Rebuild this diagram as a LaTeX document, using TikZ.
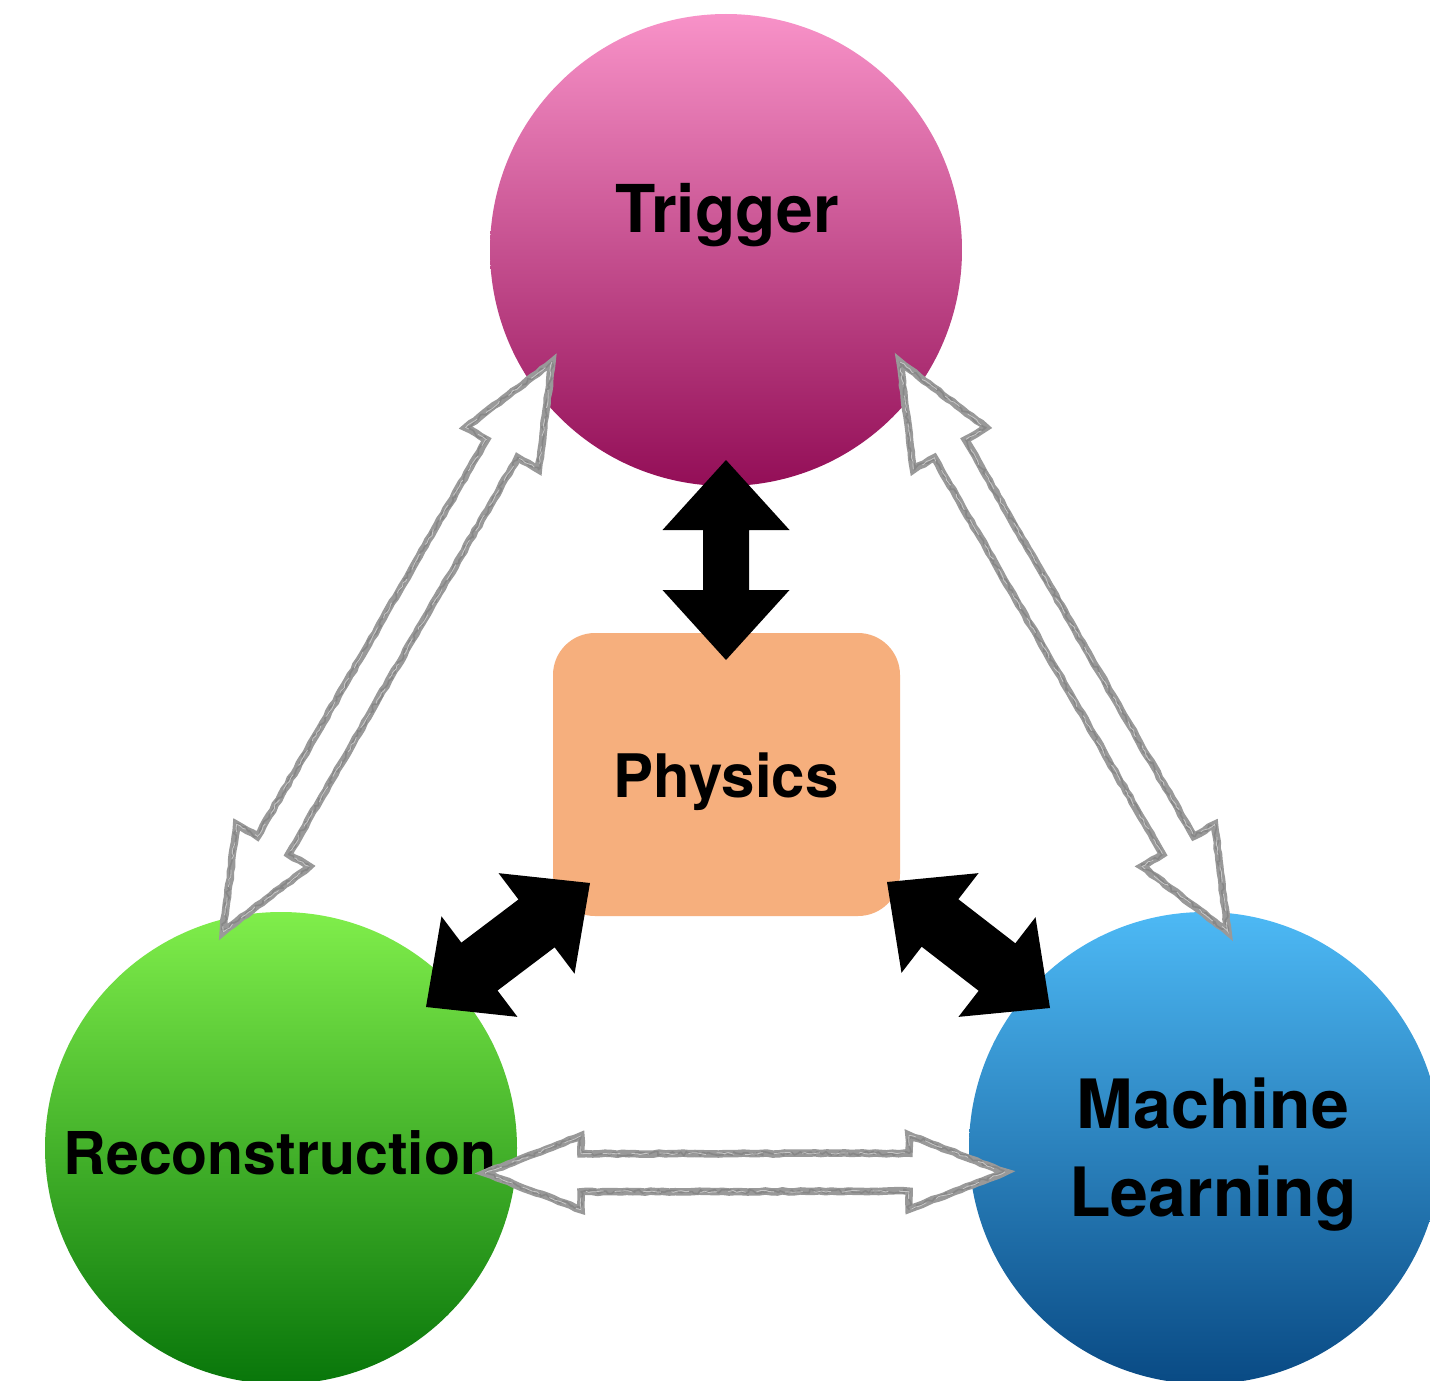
\documentclass[tikz,border=0pt]{standalone}
\usepackage{fontspec}
\setmainfont{TeX Gyre Heros}
\usetikzlibrary{calc,decorations.pathmorphing}

\definecolor{trigtop}{HTML}{F892C8}
\definecolor{trigbot}{HTML}{930E57}
\definecolor{recotop}{HTML}{80EE4B}
\definecolor{recobot}{HTML}{08760A}
\definecolor{mltop}{HTML}{4DB9F5}
\definecolor{mlbot}{HTML}{094A84}
\definecolor{physfill}{HTML}{F6AF7D}
\definecolor{sketchgray}{HTML}{999999}

% Double-headed block arrow between two points.
% #1 path options, #2 first end, #3 second end,
% #4 head length, #5 head half width, #6 shaft half width
\newcommand\twoheaded[6]{%
  \path[#1] (#2)
    -- ($(#2)!#4!(#3)!#5!90:(#3)$)
    -- ($(#2)!#4!(#3)!#6!90:(#3)$)
    -- ($(#3)!#4!(#2)!#6!-90:(#2)$)
    -- ($(#3)!#4!(#2)!#5!-90:(#2)$)
    -- (#3)
    -- ($(#3)!#4!(#2)!#5!90:(#2)$)
    -- ($(#3)!#4!(#2)!#6!90:(#2)$)
    -- ($(#2)!#4!(#3)!#6!-90:(#3)$)
    -- ($(#2)!#4!(#3)!#5!-90:(#3)$)
    -- cycle;}

\tikzset{
  topic/.style={circle, minimum size=472pt, inner sep=0pt},
  caption/.style={inner sep=0pt, anchor=base},
  solid link/.style={fill=black},
  sketch link/.style={
    fill=white,
    postaction={draw=sketchgray, line width=7.5pt, line join=miter,
      decorate, decoration={random steps, segment length=6pt, amplitude=0.6pt}},
    postaction={draw=sketchgray!88!black, line width=1.6pt, line join=round,
      decorate, decoration={random steps, segment length=3pt, amplitude=2.2pt}},
    postaction={draw=sketchgray!55!white, line width=0.8pt, dash pattern=on 18pt off 11pt,
      decorate, decoration={random steps, segment length=4pt, amplitude=1pt}}}
}

\begin{document}
\begin{tikzpicture}[x=1pt,y=-1pt]
\pgfmathsetseed{7}
\useasboundingbox (0,0) rectangle (1430,1381);
\clip (0,0) rectangle (1430,1381);
\fill[white] (0,0) rectangle (1430,1381);

% the three topics and the central box
\node[topic, top color=trigtop, bottom color=trigbot] (trig) at (726,250) {};
\node[topic, top color=recotop, bottom color=recobot] (reco) at (281,1148) {};
\node[topic, top color=mltop, bottom color=mlbot] (ml) at (1205,1148) {};
\node[fill=physfill, rounded corners=42pt, minimum width=347pt,
      minimum height=283pt, inner sep=0pt] (phys) at (726.5,774.5) {};

% captions
\node[caption, font=\fontsize{66}{70}\selectfont\bfseries] (trigtext) at (727,232) {Trigger};
\node[caption, font=\fontsize{60}{64}\selectfont\bfseries] (phystext) at (726,797) {Physics};
\node[caption, font=\fontsize{59}{64}\selectfont\bfseries] (recotext) at (280,1174) {Reconstruction};
\node[inner sep=0pt, align=center, font=\fontsize{68}{88}\selectfont\bfseries] (mltext) at (1213,1155) {Machine\\Learning};

% ends of the outlined links between the topics
\coordinate (g1a) at ($(trig.center)+(-174,112)$);
\coordinate (g1b) at ($(reco.center)+(-58,-216)$);
\coordinate (g2a) at ($(trig.center)+(174,112)$);
\coordinate (g2b) at ($(ml.center)+(23,-216)$);
\coordinate (g3a) at ($(reco.center)+(204,25)$);
\coordinate (g3b) at ($(ml.center)+(-200,24)$);

\twoheaded{sketch link}{g1a}{g1b}{100pt}{42pt}{18pt}
\twoheaded{sketch link}{g2a}{g2b}{100pt}{42pt}{18pt}
\twoheaded{sketch link}{g3a}{g3b}{96pt}{37pt}{19pt}

% ends of the solid links to physics
\coordinate (b1a) at ($(trig.center)+(0,210)$);
\coordinate (b1b) at ($(phys.center)+(-0.5,-114.5)$);
\coordinate (b2a) at ($(phys.center)+(-136.5,108.5)$);
\coordinate (b2b) at ($(reco.center)+(145,-141)$);
\coordinate (b3a) at ($(phys.center)+(160.5,107.5)$);
\coordinate (b3b) at ($(ml.center)+(-155,-140)$);

\twoheaded{solid link}{b1a}{b1b}{70pt}{63.5pt}{23pt}
\twoheaded{solid link}{b2a}{b2b}{67pt}{63pt}{30pt}
\twoheaded{solid link}{b3a}{b3b}{67pt}{63pt}{30pt}
\end{tikzpicture}
\end{document}
